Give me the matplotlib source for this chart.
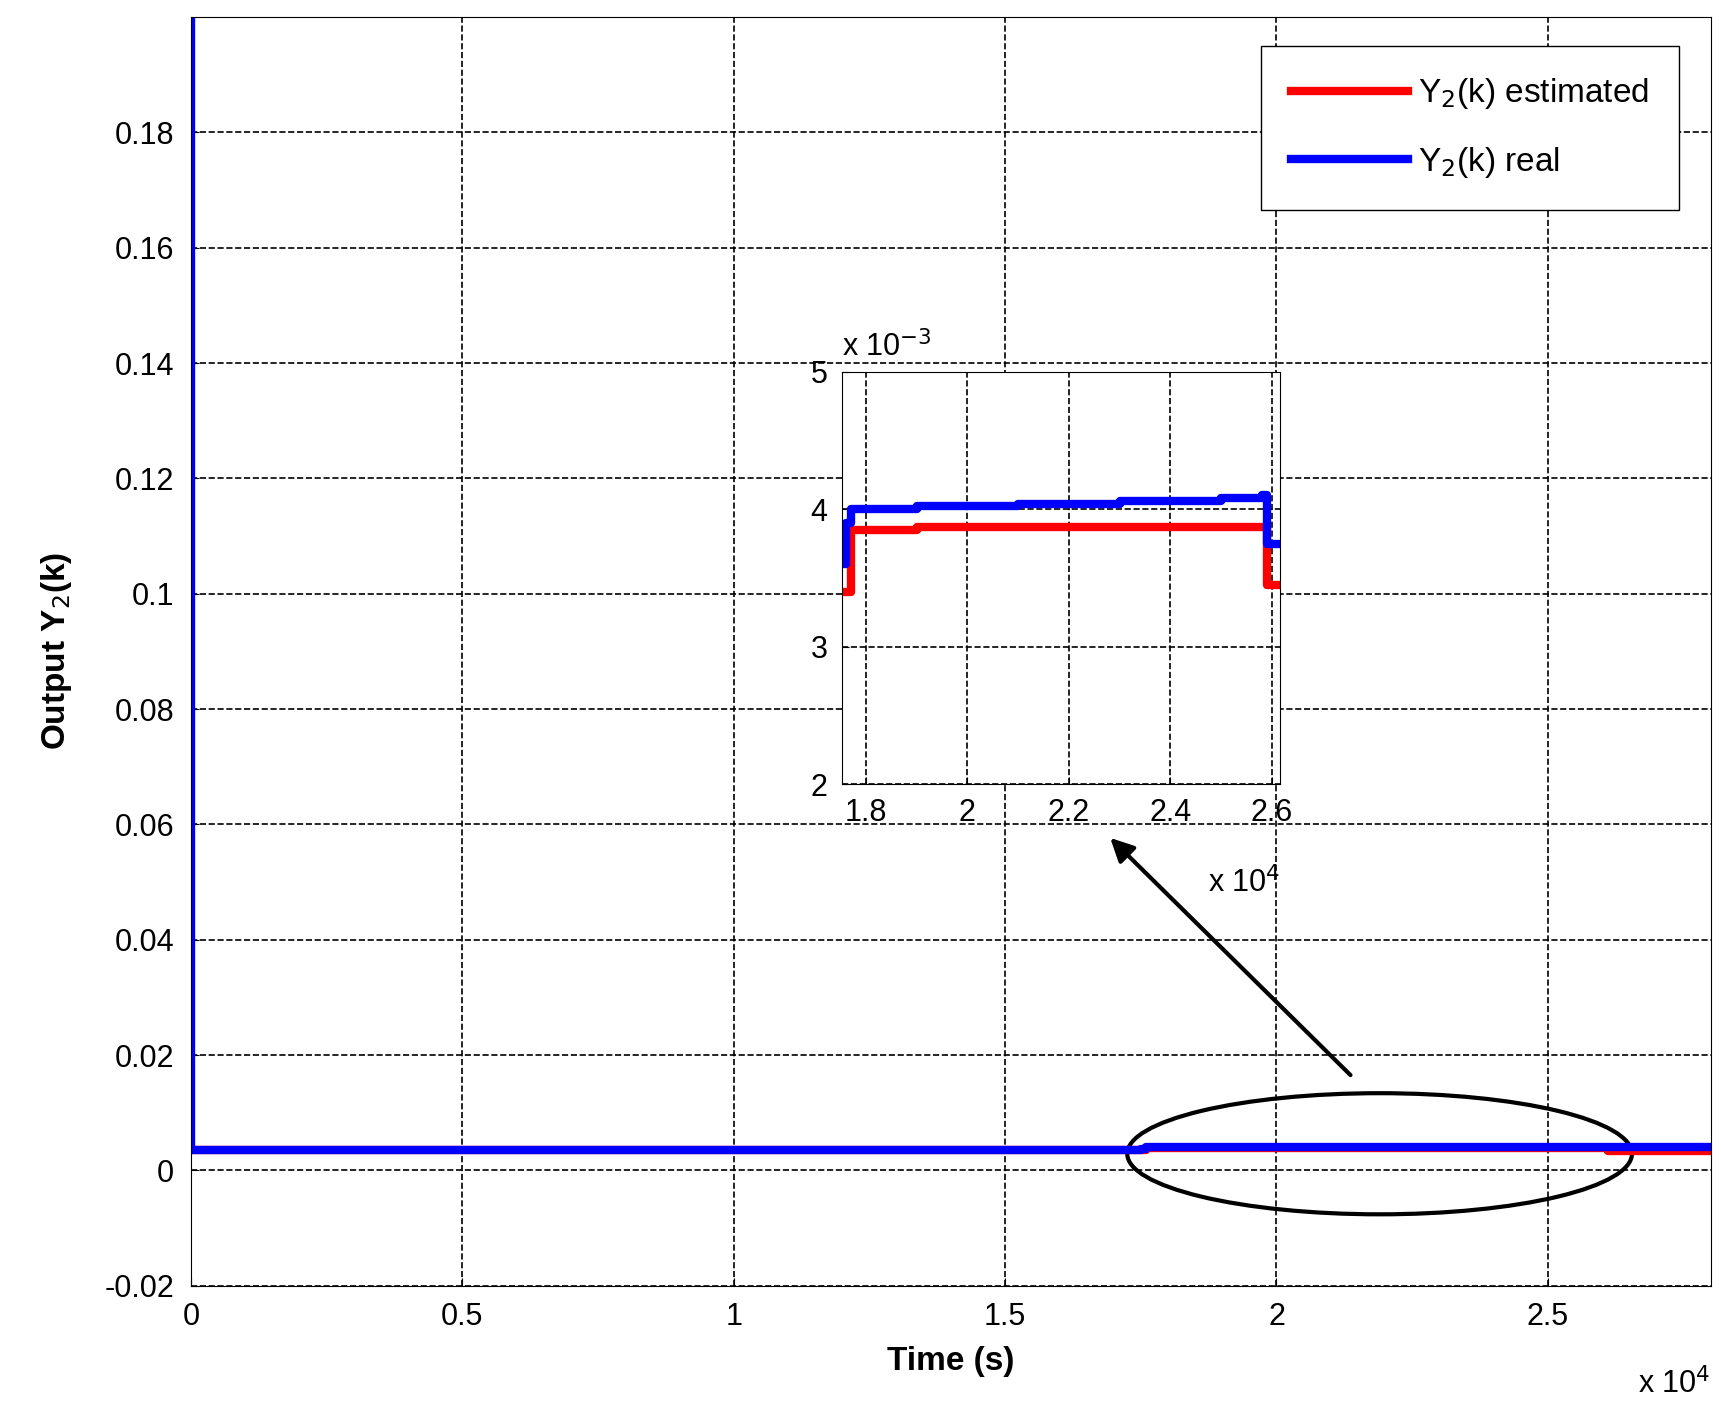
import matplotlib.pyplot as plt
from matplotlib.patches import Ellipse

plt.rcParams['font.family'] = ['Liberation Sans', 'DejaVu Sans']

# main series (step-like)
t_real = [0, 1, 1, 17500, 17600, 28000]
y_real = [0.2, 0.2, 0.0036, 0.0037, 0.0040, 0.0041]
t_est = [0, 17600, 26000, 26100, 28000]
y_est = [0.0036, 0.00385, 0.00385, 0.0033, 0.0033]

# inset series
ti_real = [17550, 17600, 17700, 19000, 21000, 23000, 25000, 25800, 25850, 25900, 26200]
yi_real = [3.6e-3, 3.9e-3, 4.0e-3, 4.02e-3, 4.04e-3, 4.06e-3, 4.08e-3, 4.1e-3, 4.1e-3, 3.75e-3, 3.75e-3]
ti_est = [17550, 17650, 17700, 19000, 25800, 25850, 25900, 26200]
yi_est = [3.4e-3, 3.4e-3, 3.85e-3, 3.87e-3, 3.87e-3, 3.87e-3, 3.45e-3, 3.45e-3]

fig = plt.figure(figsize=(17.21, 14.13), dpi=100)
ax = fig.add_axes([0.111, 0.090, 0.883, 0.898])
ax.step(t_est, y_est, where='post', color='red', lw=6, label='Y$_2$(k) estimated')
ax.step(t_real, y_real, where='post', color='blue', lw=6, label='Y$_2$(k) real')
ax.set_xlim(0, 28000)
ax.set_ylim(-0.02, 0.2)
ax.set_xticks([0, 5000, 10000, 15000, 20000, 25000])
ax.set_xticklabels(['0', '0.5', '1', '1.5', '2', '2.5'])
ax.set_yticks([-0.02 + 0.02 * i for i in range(11)])
ax.set_yticklabels(['-0.02', '0', '0.02', '0.04', '0.06', '0.08', '0.1', '0.12', '0.14', '0.16', '0.18'])
ax.tick_params(labelsize=22, direction='in', length=6, pad=12)
ax.grid(True, ls='--', color='black', lw=1.2)
ax.set_xlabel('Time (s)', fontsize=24, fontweight='bold', labelpad=10)
ax.set_ylabel('Output Y$_2$(k)', fontsize=24, fontweight='bold', labelpad=22)
ax.text(1.0, -0.065, 'x 10$^4$', transform=ax.transAxes, ha='right', va='top', fontsize=22)
ax.legend(loc='upper right', fontsize=24, fancybox=False, edgecolor='black', framealpha=1,
          handlelength=3.5, labelspacing=1.0, borderpad=0.9, handletextpad=0.3,
          bbox_to_anchor=(0.99, 0.99))

ax.add_patch(Ellipse((21900, 0.0029), 9300, 0.021, fill=False, color='black', lw=3))
ax.annotate('', xy=(16900, 0.058), xytext=(21400, 0.0162),
            arrowprops=dict(arrowstyle='-|>', color='black', lw=3, mutation_scale=35))

ins = fig.add_axes([0.489, 0.445, 0.255, 0.292])
ins.step(ti_est, yi_est, where='post', color='red', lw=6)
ins.step(ti_real, yi_real, where='post', color='blue', lw=6)
ins.set_xlim(17520, 26170)
ins.set_ylim(2e-3, 5e-3)
ins.set_xticks([18000, 20000, 22000, 24000, 26000])
ins.set_xticklabels(['1.8', '2', '2.2', '2.4', '2.6'])
ins.set_yticks([2e-3, 3e-3, 4e-3, 5e-3])
ins.set_yticklabels(['2', '3', '4', '5'])
ins.tick_params(labelsize=22, direction='in', length=5, pad=10)
ins.grid(True, ls='--', color='black', lw=1.2)
ins.text(0.0, 1.02, 'x 10$^{-3}$', transform=ins.transAxes, ha='left', va='bottom', fontsize=22)
ins.text(1.0, -0.2, 'x 10$^4$', transform=ins.transAxes, ha='right', va='top', fontsize=22)

fig.savefig('out.png')
